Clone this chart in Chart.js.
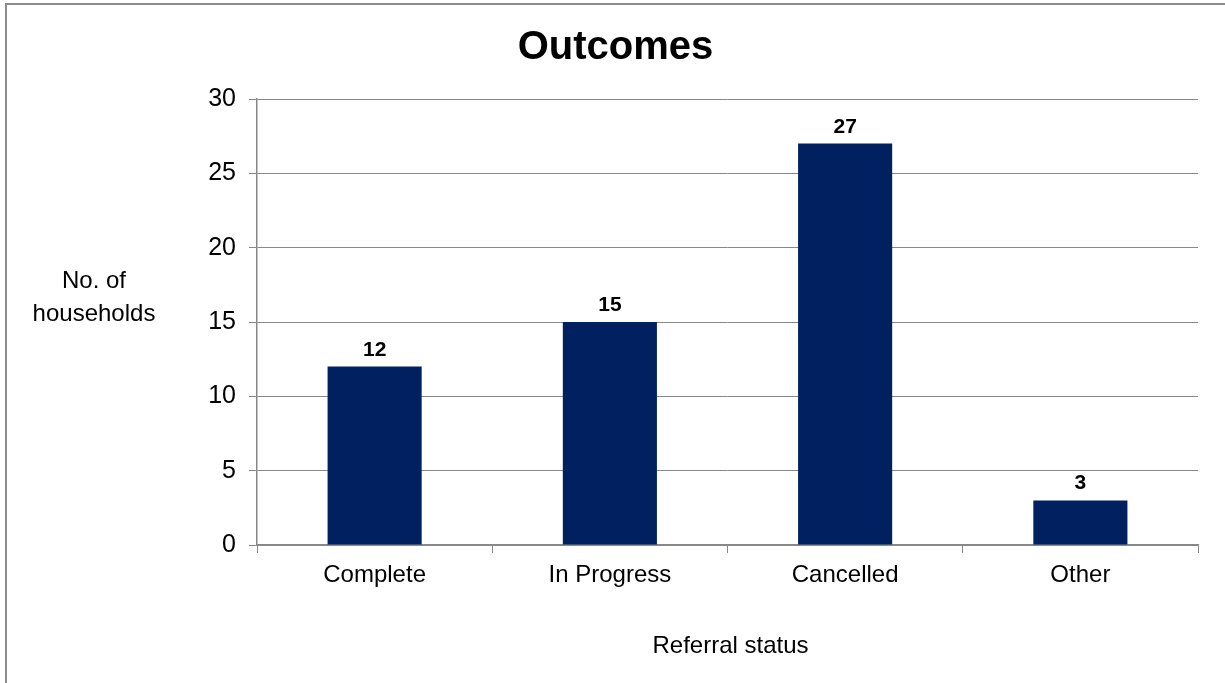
<!DOCTYPE html>
<html>
<head>
<meta charset="utf-8">
<script src="https://cdn.jsdelivr.net/npm/chart.js@4/dist/chart.umd.min.js"></script>
<style>
  html, body { margin: 0; padding: 0; background: #ffffff; overflow: hidden; }
  #frame { position: absolute; left: 5px; top: 3px; width: 3000px; height: 3000px;
           border-left: 2px solid #8c8c8c; border-top: 2px solid #8c8c8c; box-sizing: border-box; }
  #wrap { position: absolute; left: 0; top: 0; width: 1225px; height: 683px; }
</style>
</head>
<body>
<div id="frame"></div>
<div id="wrap"><canvas id="c" width="1225" height="683"></canvas></div>
<script>
const chartTitle = "Outcomes";
const categories = ["Complete", "In Progress", "Cancelled", "Other"];
const households = [12, 15, 27, 3];
const yAxisTitle = ["No. of", "households"];
const xAxisTitle = "Referral status";
const yMin = 0, yMax = 30, yStep = 5;

const FONT = "'Liberation Sans', Arial, sans-serif";
const GRID = "#888888";

const textPlugin = {
  id: "texts",
  afterDatasetsDraw(chart) {
    const ctx = chart.ctx;
    const ca = chart.chartArea;
    ctx.save();
    ctx.fillStyle = "#000";
    ctx.textAlign = "center";
    ctx.textBaseline = "alphabetic";
    // title
    ctx.font = "bold 40px " + FONT;
    ctx.fillText(chartTitle, 615.5, 59);
    // y title
    ctx.font = "24px " + FONT;
    ctx.fillText(yAxisTitle[0], 94, 288);
    ctx.fillText(yAxisTitle[1], 94, 321);
    // x title
    ctx.fillText(xAxisTitle, (ca.left + ca.right) / 2 + 3, 653);
    // data labels
    ctx.font = "bold 21px " + FONT;
    const meta = chart.getDatasetMeta(0);
    meta.data.forEach((bar, i) => {
      ctx.fillText(String(households[i]), bar.x, bar.y - 11);
    });
    ctx.restore();
  }
};

new Chart(document.getElementById("c"), {
  type: "bar",
  data: {
    labels: categories,
    datasets: [{
      data: households,
      backgroundColor: "#002060",
      borderWidth: 0,
      categoryPercentage: 1,
      barPercentage: 0.4
    }]
  },
  options: {
    responsive: false,
    animation: false,
    events: [],
    layout: { padding: { left: 0, right: 27, top: 99, bottom: 0 } },
    plugins: { legend: { display: false }, tooltip: { enabled: false }, title: { display: false } },
    scales: {
      x: {
        grid: { offset: true, drawOnChartArea: false, color: GRID, tickLength: 8, lineWidth: 1 },
        border: { color: GRID, width: 1.5 },
        ticks: { color: "#000", font: { family: FONT, size: 24 }, padding: 8, maxRotation: 0 },
        afterFit(scale) { scale.height = 138; }
      },
      y: {
        min: yMin, max: yMax,
        grid: { color: GRID, tickLength: 8, lineWidth: 1 },
        border: { color: GRID, width: 1.5 },
        ticks: { stepSize: yStep, color: "#000", font: { family: FONT, size: 25 }, padding: 13 },
        afterFit(scale) { scale.width = 257; }
      }
    }
  },
  plugins: [textPlugin]
});
</script>
</body>
</html>
